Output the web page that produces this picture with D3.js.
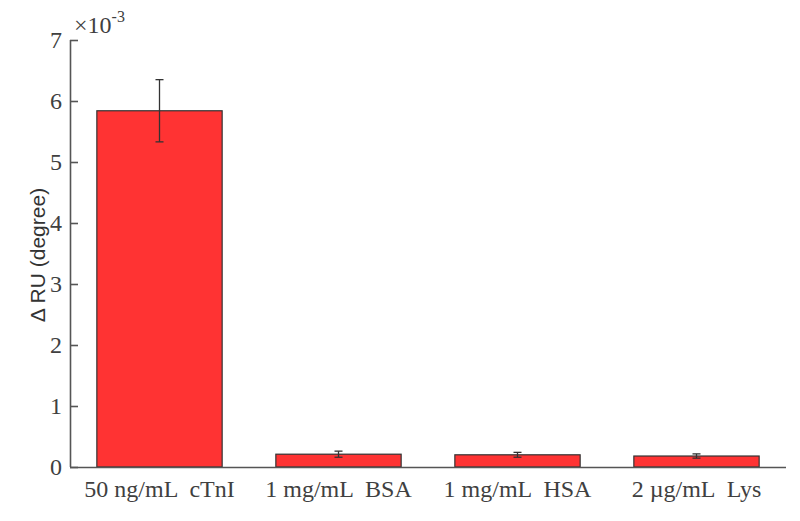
<!DOCTYPE html>
<html>
<head>
<meta charset="utf-8">
<script src="https://cdn.jsdelivr.net/npm/d3@7"></script>
<style>
  body { margin: 0; background: #fff; }
  .tick text { font-family: "Liberation Serif", "Times New Roman", Times, serif; font-size: 24px; fill: #404040; }
</style>
</head>
<body>
<script>
// dati (valori in unita di 1e-3 gradi)
const categorie = ["50 ng/mL  cTnI", "1 mg/mL  BSA", "1 mg/mL  HSA", "2 \u00b5g/mL  Lys"];
const valori = [5.84, 0.21, 0.20, 0.18];
const errori = [0.51, 0.05, 0.04, 0.035];
const tickY = [0, 1, 2, 3, 4, 5, 6, 7];

const margine = { sinistra: 70, destra: 786, alto: 40, basso: 467 };
const fontSerif = "'Liberation Serif', 'Times New Roman', Times, serif";

let svg = d3.select("body")
    .append("svg")
    .attr("width", 800)
    .attr("height", 521);

// scala categorie
let scalaX = d3.scaleBand()
    .domain(categorie)
    .range([margine.sinistra, margine.destra])
    .paddingInner(0.3)
    .paddingOuter(0.15);

// scala valori
let scalaY = d3.scaleLinear()
    .domain([0, 7])
    .range([margine.basso, margine.alto]);

let dati = categorie.map(function (c, i) {
    return { nome: c, valore: valori[i], errore: errori[i] };
});

// barre
svg.selectAll(".barra")
    .data(dati)
    .enter()
    .append("rect")
    .attr("class", "barra")
    .attr("x", function (d) { return scalaX(d.nome) })
    .attr("y", function (d) { return scalaY(d.valore) })
    .attr("width", scalaX.bandwidth())
    .attr("height", function (d) { return scalaY(0) - scalaY(d.valore) })
    .attr("fill", "#ff3333")
    .attr("stroke", "#333")
    .attr("stroke-width", 1.2);

// barre di errore
let errore = svg.selectAll(".errore")
    .data(dati)
    .enter()
    .append("g")
    .attr("class", "errore")
    .attr("stroke", "#333")
    .attr("stroke-width", 1.3);

let cx = function (d) { return scalaX(d.nome) + scalaX.bandwidth() / 2 };

errore.append("line")
    .attr("x1", cx).attr("x2", cx)
    .attr("y1", function (d) { return scalaY(d.valore + d.errore) })
    .attr("y2", function (d) { return scalaY(d.valore - d.errore) });
errore.append("line")
    .attr("x1", function (d) { return cx(d) - 4 }).attr("x2", function (d) { return cx(d) + 4 })
    .attr("y1", function (d) { return scalaY(d.valore + d.errore) })
    .attr("y2", function (d) { return scalaY(d.valore + d.errore) });
errore.append("line")
    .attr("x1", function (d) { return cx(d) - 4 }).attr("x2", function (d) { return cx(d) + 4 })
    .attr("y1", function (d) { return scalaY(d.valore - d.errore) })
    .attr("y2", function (d) { return scalaY(d.valore - d.errore) });

// asse x
let asseX = d3.axisBottom(scalaX).tickSize(0).tickPadding(13);
let gx = svg.append("g")
    .attr("transform", `translate(0,${margine.basso})`)
    .call(asseX);
gx.select(".domain").attr("stroke", "#555").attr("stroke-width", 1.6)
    .attr("d", `M${margine.sinistra},0.5H${margine.destra}`);
gx.selectAll(".tick text")
    .attr("fill", "#111")
    .attr("xml:space", "preserve")
    .style("white-space", "pre");

// asse y con tacche verso l'interno
let asseY = d3.axisLeft(scalaY).tickValues(tickY).tickFormat(d3.format("d"))
    .tickSize(-8).tickPadding(8);
let gy = svg.append("g")
    .attr("transform", `translate(${margine.sinistra},0)`)
    .call(asseY);
gy.select(".domain").attr("stroke", "#555").attr("stroke-width", 1.6)
    .attr("d", `M0.5,${margine.alto}V${margine.basso}`);
gy.selectAll(".tick line").attr("stroke", "#555").attr("stroke-width", 1.6);

// moltiplicatore
let molt = svg.append("text")
    .attr("x", margine.sinistra + 4)
    .attr("y", 33)
    .style("font-family", fontSerif)
    .attr("font-size", 24)
    .attr("fill", "#404040");
molt.append("tspan").text("\u00d710");
molt.append("tspan").attr("dy", -11).attr("font-size", 16).text("-3");

// titolo asse y
svg.append("text")
    .attr("transform", `translate(45,255) rotate(-90)`)
    .attr("text-anchor", "middle")
    .style("font-family", "'Liberation Sans', Arial, sans-serif")
    .attr("font-size", 21)
    .attr("fill", "#333")
    .text("\u0394 RU (degree)");
</script>
</body>
</html>
